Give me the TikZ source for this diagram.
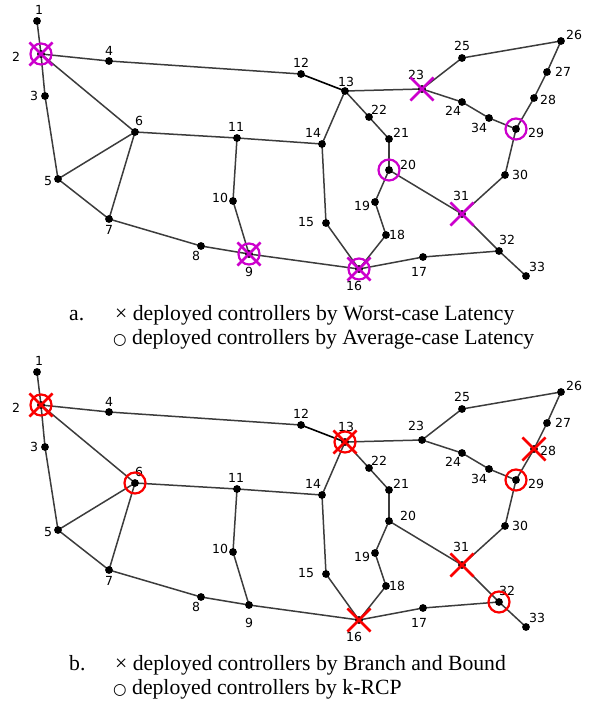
\documentclass[tikz,border=0pt]{standalone}
\usepackage{fontspec}
\setmainfont{Liberation Serif}
\newfontfamily\labfont{DejaVu Sans}
\usetikzlibrary{shapes.misc}
\definecolor{mag}{RGB}{204,0,204}
\definecolor{redm}{RGB}{250,0,0}
\definecolor{edgec}{RGB}{60,60,60}
\tikzset{
  dot/.style={circle,fill=black,inner sep=0pt,minimum size=7.8pt},
  edge/.style={draw=edgec,line width=1.5pt},
  lab/.style={font=\labfont\fontsize{12.5}{13}\selectfont,inner sep=0pt},
  xm/.style={draw=#1,cross out,line width=2.6pt,minimum size=20.5pt,inner sep=0pt},
  om/.style={draw=#1,circle,line width=2.2pt,minimum size=21pt,inner sep=0pt},
  captxt/.style={font=\fontsize{21.7}{24}\selectfont,inner sep=0pt,anchor=base west},
}
\newcommand\circsym{{\labfont\fontsize{15.5}{16}\selectfont ○}}
\newcommand\drawnet[3]{%
  \foreach \n/\x/\y in {1/37/21,2/41/54,3/45/96,4/109/61,5/58/179,6/135/132,7/109/219,8/201/246,9/249/254,10/233/201,11/237/138,12/301/74,13/345/91,14/322/144,15/326/223,16/359/269,17/423/257,18/386/235,19/375/202,20/389/170,21/389/139,22/369/117,23/422/89,24/462/102,25/462/58,26/561/41,27/547/72,28/534/98,29/516/129,30/505/175,31/462/214,32/499/251,33/526/276,34/489/118}
    {\coordinate (#1\n) at (\x,\y+#2);}
  \foreach \a/\b in {1/2,2/4,4/12,2/3,2/6,3/5,5/6,6/7,5/7,6/11,11/14,11/10,10/9,7/8,8/9,9/16,13/14,13/22,22/21,21/20,13/23,23/25,25/26,26/27,27/28,28/29,23/24,24/34,34/29,29/30,30/31,20/31,31/32,32/33,32/17,17/16,14/15,15/16,20/19,19/18,18/16}
    {\draw[edge] (#1\a) -- (#1\b);}
  \draw[line width=1.6pt,black] (#112) -- (#113);
  \foreach \n in {1,...,34} {\node[dot] (#1d\n) at (#1\n) {};}
  \foreach \n/\x/\y in {1/39/10,2/16/57,3/34/96,4/109/51,5/48/181,6/139/121,7/109/230,8/196/256,9/249/272,10/220/198,11/236/127,12/301/63,13/346/#3,14/313/133,15/306/222,16/354/286,17/419/272,18/397/235,19/362/206,20/408/165,21/401/133,22/379/110,23/416/75,24/453/111,25/462/46,26/574/35,27/563/72,28/548/100,29/536/133,30/520/175,31/461/196,32/507/240,33/537/267,34/479/128}
    {\node[lab] (#1l\n) at (\x,\y+#2) {\n};}
}
\begin{document}
\begin{tikzpicture}[x=1pt,y=-1pt]
\useasboundingbox (0,0) rectangle (596,701);
\drawnet{t}{0}{82}
\drawnet{b}{351}{76}
% top markers
\foreach \n in {2,9,16,23,31} {\node[xm=mag] (tx\n) at (t\n) {};}
\foreach \n in {2,9,16,20,29} {\node[om=mag] (to\n) at (t\n) {};}
% bottom markers
\foreach \n in {2,13,28,31,16} {\node[xm=redm] (bx\n) at (b\n) {};}
\foreach \n in {2,13,6,29,32} {\node[om=redm] (bo\n) at (b\n) {};}
% captions
\node[captxt] (ca) at (69,320) {a.};
\node[captxt] (ca1) at (115,320) {× deployed controllers by Worst-case Latency};
\node[captxt] (ca2) at (113,344) {\circsym\ deployed controllers by Average-case Latency};
\node[captxt] (cb) at (69,670) {b.};
\node[captxt] (cb1) at (115,670) {× deployed controllers by Branch and Bound};
\node[captxt] (cb2) at (113,694) {\circsym\ deployed controllers by k-RCP};
\end{tikzpicture}
\end{document}
